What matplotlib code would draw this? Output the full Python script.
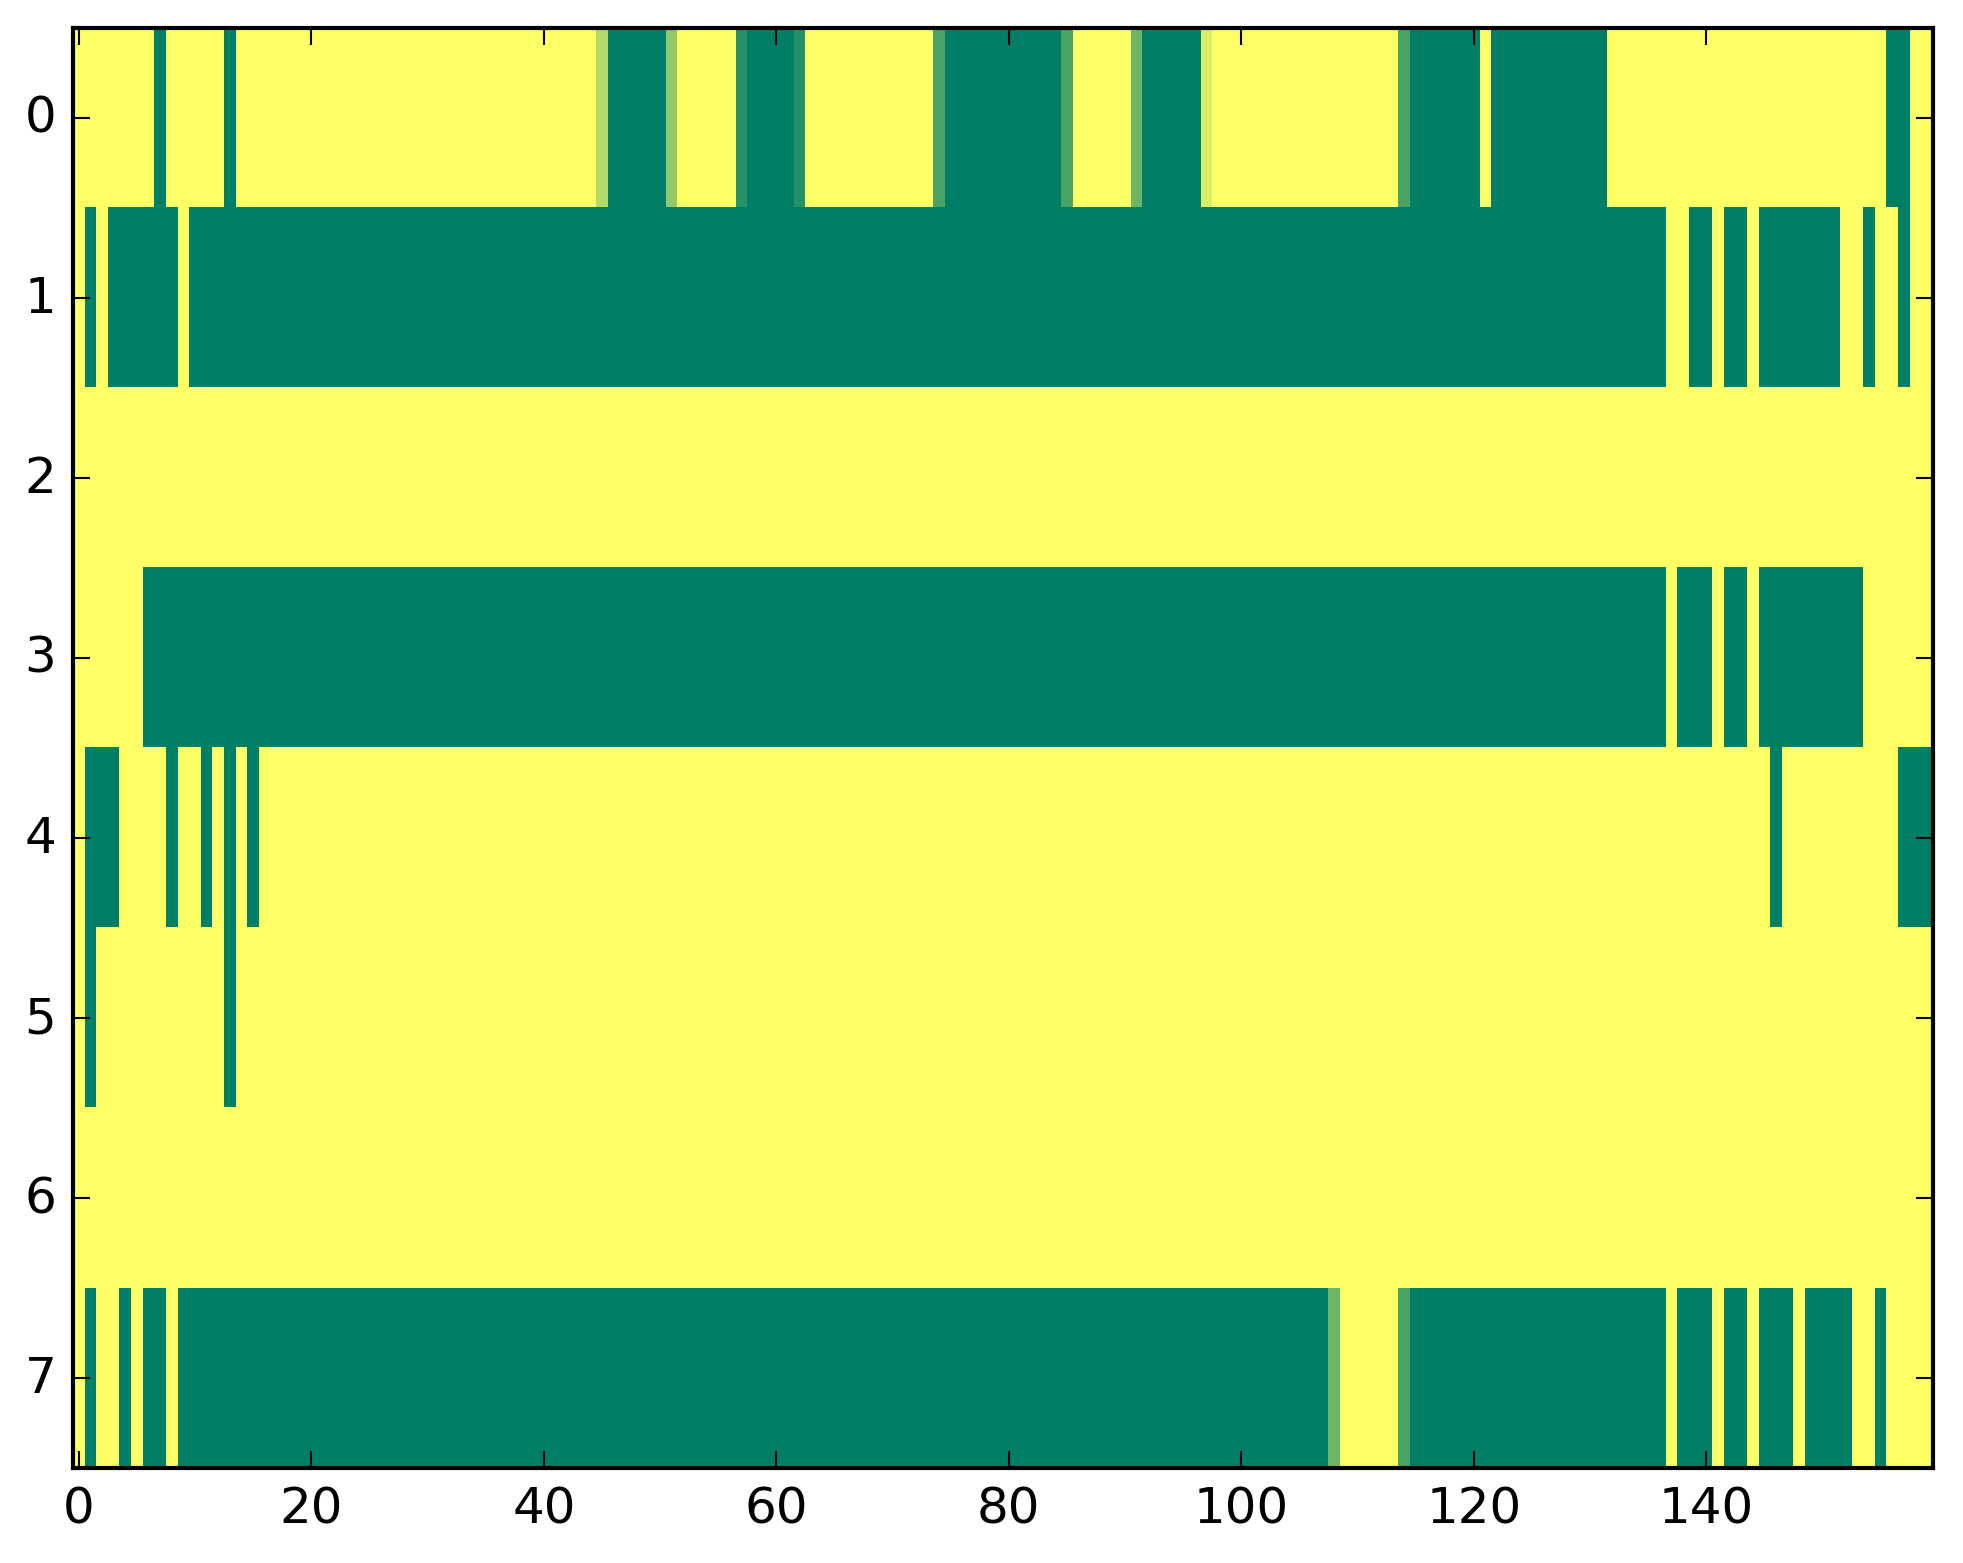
import numpy as np
import matplotlib
matplotlib.use("Agg")
import matplotlib.pyplot as plt

# cell values per row as (value, run length); 1 = yellow, 0 = dark green
row0 = [(1, 7), (0, 1), (1, 5), (0, 1), (1, 31), (5/7, 1), (0, 5), (4/7, 1),
        (1, 5), (1/7, 1), (0, 4), (1/7, 1), (1, 11), (2/7, 1), (0, 10), (2/7, 1),
        (1, 5), (3/7, 1), (0, 5), (6/7, 1), (1, 16), (2/7, 1), (0, 6), (1, 1),
        (0, 10), (1, 24), (0, 2), (1, 2)]
row1 = [(1, 1), (0, 1), (1, 1), (0, 6), (1, 1), (0, 127), (1, 2), (0, 2), (1, 1),
        (0, 2), (1, 1), (0, 7), (1, 2), (0, 1), (1, 2), (0, 1), (1, 2)]
row2 = [(1, 160)]
row3 = [(1, 6), (0, 131), (1, 1), (0, 3), (1, 1), (0, 2), (1, 1), (0, 9), (1, 6)]
row4 = [(1, 1), (0, 3), (1, 4), (0, 1), (1, 2), (0, 1), (1, 1), (0, 1), (1, 1),
        (0, 1), (1, 130), (0, 1), (1, 10), (0, 3)]
row5 = [(1, 1), (0, 1), (1, 11), (0, 1), (1, 146)]
row6 = [(1, 160)]
row7 = [(1, 1), (0, 1), (1, 2), (0, 1), (1, 1), (0, 2), (1, 1), (0, 99), (3/7, 1),
        (1, 5), (2/7, 1), (0, 22), (1, 1), (0, 3), (1, 1), (0, 2), (1, 1), (0, 3),
        (1, 1), (0, 4), (1, 2), (0, 1), (1, 4)]

rows = [row0, row1, row2, row3, row4, row5, row6, row7]
y_ticks = [0, 1, 2, 3, 4, 5, 6, 7]
x_ticks = [0, 20, 40, 60, 80, 100, 120, 140]


def expand(runs):
    vals = [v for v, n in runs]
    counts = [n for v, n in runs]
    return np.repeat(vals, counts)


grid = np.array([expand(r) for r in rows])

plt.style.use("classic")
plt.rcParams["font.family"] = ["DejaVu Sans"]

fig = plt.figure(figsize=(1963 / 300, 1564 / 300), dpi=300, facecolor="white")
ax = fig.add_axes([0.0372, 0.0607, 0.9475, 0.9208])
ax.imshow(grid, cmap="summer", vmin=0, vmax=1, aspect="auto",
          interpolation="nearest")
ax.set_xlim(-0.5, grid.shape[1] - 0.5)
ax.set_ylim(grid.shape[0] - 0.5, -0.5)
ax.set_xticks(x_ticks)
ax.set_yticks(y_ticks)
ax.tick_params(labelsize=12)

fig.savefig("out.png", dpi=300, facecolor="white")
